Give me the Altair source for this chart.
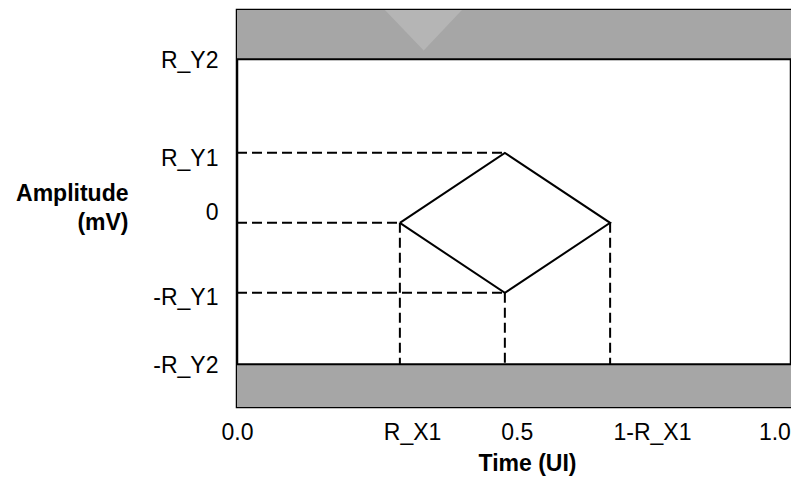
import altair as alt
import pandas as pd

# ---- data (units: x in UI, y in multiples of R_Y1) ----
x_tick_pos = [0.0, 0.316, 0.505, 0.749, 0.970]
x_tick_lab = ["0.0", "R_X1", "0.5", "1-R_X1", "1.0"]
y_tick_pos = [2.32, 0.92, 0.15, -1.064, -2.036]
y_tick_lab = ["R_Y2", "R_Y1", "0", "-R_Y1", "-R_Y2"]

R_X1 = 0.294
MID = 0.4835
R_X1B = 0.6735
R_Y1 = 1.0
R_Y2 = 2.336
NR_Y2 = -2.02
Y_TOP = 3.04
Y_BOT = -2.63

dia_x = [R_X1, MID, R_X1B, MID, R_X1]
dia_y = [0, R_Y1, 0, -R_Y1, 0]

dash_x = [0, 0, 0, R_X1, MID, R_X1B]
dash_x2 = [MID, R_X1, MID, R_X1, MID, R_X1B]
dash_y = [R_Y1, 0, -R_Y1, 0, -R_Y1, 0]
dash_y2 = [R_Y1, 0, -R_Y1, NR_Y2, NR_Y2, NR_Y2]

band_y = [R_Y2, Y_BOT]
band_y2 = [Y_TOP, NR_Y2]
edge_y = [R_Y2, NR_Y2]

tri_x = [0.267, 0.337, 0.406]
tri_lo = [Y_TOP, 2.46, Y_TOP]

FONT = "Liberation Sans"
FS = 23


def expr_from(pos, lab):
    e = "''"
    for p, l in reversed(list(zip(pos, lab))):
        e = f"abs(datum.value - {p}) < 0.001 ? '{l}' : {e}"
    return e


xs = alt.Scale(domain=[0, 1], nice=False, zero=False)
ys = alt.Scale(domain=[Y_BOT, Y_TOP], nice=False, zero=False)

x_axis = alt.Axis(values=x_tick_pos, labelExpr=expr_from(x_tick_pos, x_tick_lab),
                  ticks=False, grid=False, domain=False, labelFlush=False,
                  labelPadding=14, labelFontSize=FS, labelFont=FONT, labelColor="black",
                  title="Time (UI)", titleFont=FONT, titleFontSize=FS, titleFontWeight="bold",
                  titleColor="black", titleX=290, titleY=63, titleBaseline="alphabetic")
y_axis = alt.Axis(values=y_tick_pos, labelExpr=expr_from(y_tick_pos, y_tick_lab),
                  ticks=False, grid=False, domain=False, labelFlush=False,
                  labelPadding=19, labelFontSize=FS, labelFont=FONT, labelColor="black",
                  labelBaseline="middle",
                  title=["Amplitude", "(mV)"], titleAngle=0, titleAlign="right",
                  titleX=-109, titleY=190, titleBaseline="alphabetic", titleLineHeight=29,
                  titleFont=FONT, titleFontSize=FS, titleFontWeight="bold", titleColor="black")

bands = pd.DataFrame({"y": band_y, "y2": band_y2, "x": [0, 0], "x2": [1, 1]})
band_layer = alt.Chart(bands).mark_rect(color="#a6a6a6").encode(
    x=alt.X("x:Q", scale=xs, axis=x_axis), x2="x2:Q",
    y=alt.Y("y:Q", scale=ys, axis=y_axis), y2="y2:Q")

tri = pd.DataFrame({"x": tri_x, "y": tri_lo, "y2": [Y_TOP] * 3})
tri_layer = alt.Chart(tri).mark_area(color="#b5b5b5").encode(
    x=alt.X("x:Q", scale=xs), y=alt.Y("y:Q", scale=ys), y2="y2:Q")

edges = pd.DataFrame({"y": edge_y, "x": [0, 0], "x2": [1, 1]})
edge_layer = alt.Chart(edges).mark_rule(color="black", strokeWidth=2).encode(
    x=alt.X("x:Q", scale=xs), x2="x2:Q", y=alt.Y("y:Q", scale=ys))

dashes = pd.DataFrame({"x": dash_x, "x2": dash_x2, "y": dash_y, "y2": dash_y2})
dash_layer = alt.Chart(dashes).mark_rule(color="black", strokeWidth=2, strokeDash=[10, 5]).encode(
    x=alt.X("x:Q", scale=xs), x2="x2:Q", y=alt.Y("y:Q", scale=ys), y2="y2:Q")

dia = pd.DataFrame({"x": dia_x, "y": dia_y, "o": list(range(len(dia_x)))})
dia_layer = alt.Chart(dia).mark_line(color="black", strokeWidth=2).encode(
    x=alt.X("x:Q", scale=xs), y=alt.Y("y:Q", scale=ys), order="o:Q")

chart = alt.layer(band_layer, tri_layer, edge_layer, dash_layer, dia_layer).properties(
    width=554, height=397,
    background="white",
    autosize=alt.AutoSizeParams(type="none"),
    padding={"left": 229, "top": 2, "right": 0, "bottom": 70},
).configure_view(stroke="black", strokeWidth=2.5)

chart.save("out.html", embed_options={"renderer": "svg", "actions": False})
